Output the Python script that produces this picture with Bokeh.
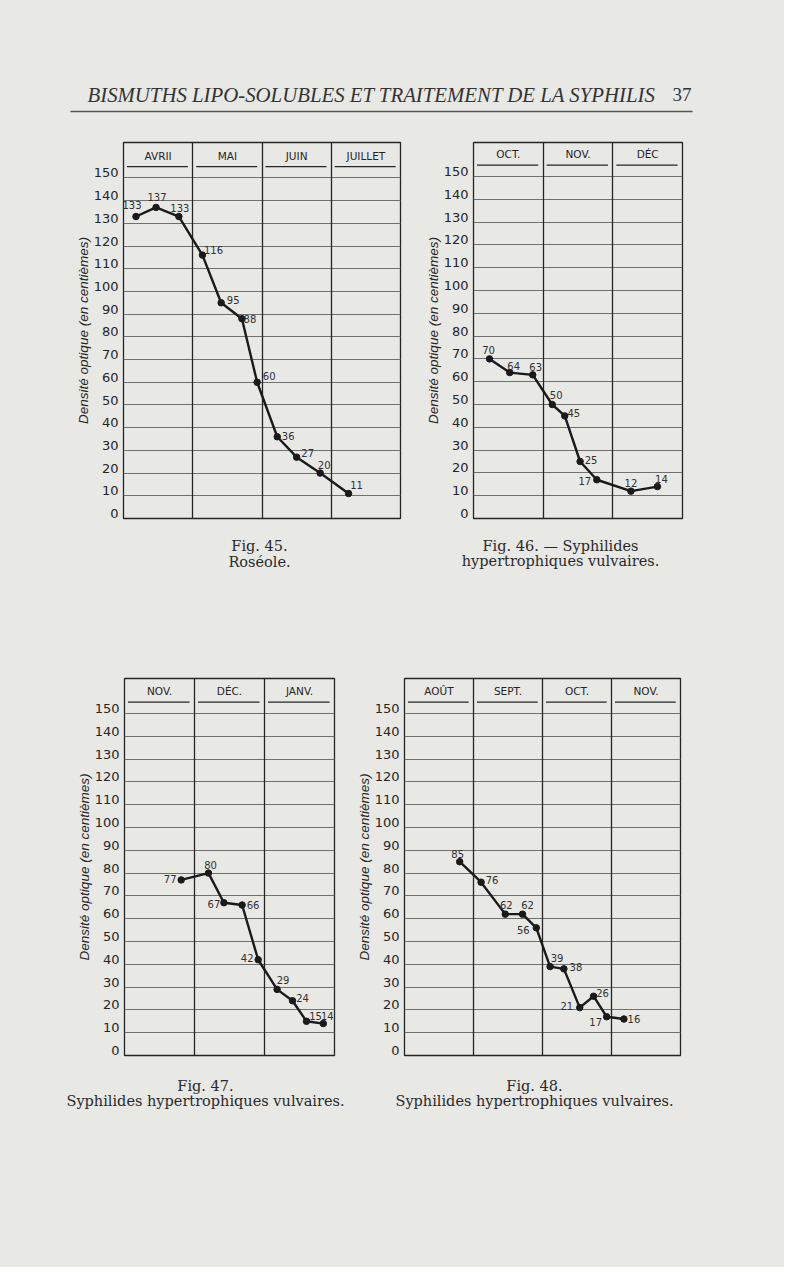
from bokeh.plotting import figure
from bokeh.models import Range1d, LinearAxis, FixedTicker, Grid
from bokeh.layouts import column, row
from bokeh.embed import file_html
from bokeh.resources import INLINE
from bokeh.core.properties import value

BG = "#e8e8e5"
INK = "#252525"
GRIDC = "#707070"

# ---------------- data ----------------
ticks = [0, 10, 20, 30, 40, 50, 60, 70, 80, 90, 100, 110, 120, 130, 140, 150]
tick_labels = ["0", "10", "20", "30", "40", "50", "60", "70", "80", "90",
               "100", "110", "120", "130", "140", "150"]
ylabel = "Densité optique (en centièmes)"

months45 = ["AVRII", "MAI", "JUIN", "JUILLET"]
t45 = [0.18, 0.47, 0.80, 1.14, 1.41, 1.71, 1.93, 2.22, 2.50, 2.84, 3.25]
v45 = [133, 137, 133, 116, 95, 88, 60, 36, 27, 20, 11]
cap45 = ["Fig. 45.", "Roséole."]

months46 = ["OCT.", "NOV.", "DÉC"]
t46 = [0.23, 0.52, 0.85, 1.13, 1.31, 1.53, 1.77, 2.26, 2.64]
v46 = [70, 64, 63, 50, 45, 25, 17, 12, 14]
cap46 = ["Fig. 46. — Syphilides", "hypertrophiques vulvaires."]

months47 = ["NOV.", "DÉC.", "JANV."]
t47 = [0.81, 1.20, 1.42, 1.68, 1.91, 2.18, 2.40, 2.60, 2.84]
v47 = [77, 80, 67, 66, 42, 29, 24, 15, 14]
cap47 = ["Fig. 47.", "Syphilides hypertrophiques vulvaires."]

months48 = ["AOÛT", "SEPT.", "OCT.", "NOV."]
t48 = [0.80, 1.11, 1.46, 1.71, 1.91, 2.11, 2.31, 2.54, 2.74, 2.93, 3.18]
v48 = [85, 76, 62, 62, 56, 39, 38, 21, 26, 17, 16]
cap48 = ["Fig. 48.", "Syphilides hypertrophiques vulvaires."]

header_text = "BISMUTHS LIPO-SOLUBLES ET TRAITEMENT DE LA SYPHILIS"
page_no = "37"

# ---------------- styling (label offsets in px) ----------------
dx45 = [-4, 1, 1, 11, 12, 8, 12, 11, 11, 4, 8]
dy45 = [-12, -10, -9, -5, -3, 0, -6, -1, -4, -8, -9]
dx46 = [-1, 4, 3, 4, 9, 11, -12, 0, 4]
dy46 = [-9, -7, -8, -9, -3, -1, 1, -8, -8]
dx47 = [-11, 2, -10, 11, -11, 6, 10, 9, 4]
dy47 = [-1, -8, 1, 0, -2, -9, -3, -5, -8]
dx48 = [-2, 11, 1, 5, -13, 7, 12, -13, 9, -11, 10]
dy48 = [-8, -2, -9, -9, 2, -9, -2, -2, -3, 5, 0]

STY = {"background-color": BG}


def chart(months, t, v, dx, dy, bl, fw, br, bt, fh, bb, top):
    n = len(months)
    p = figure(width=bl + fw + br, height=bt + fh + bb,
               x_range=Range1d(0, n), y_range=Range1d(0, top),
               x_axis_type=None, y_axis_type=None, title=None,
               output_backend="svg", toolbar_location=None,
               min_border_left=bl, min_border_right=br,
               min_border_top=bt, min_border_bottom=bb)
    p.background_fill_color = BG
    p.border_fill_color = BG
    p.outline_line_color = INK
    p.outline_line_width = 1.3

    p.add_layout(Grid(dimension=1, ticker=FixedTicker(ticks=ticks[1:]),
                      grid_line_color=GRIDC, grid_line_width=1))
    p.add_layout(Grid(dimension=0, ticker=FixedTicker(ticks=list(range(1, n))),
                      grid_line_color=INK, grid_line_width=1.3))

    d = 5.0 * top / fh
    p.extra_y_ranges = {"lab": Range1d(-d, top - d)}
    ax = LinearAxis(y_range_name="lab", ticker=FixedTicker(ticks=ticks),
                    major_label_overrides={t_: l for t_, l in zip(ticks, tick_labels)},
                    axis_line_color=None, major_tick_line_color=None,
                    minor_tick_line_color=None,
                    major_tick_out=0, major_tick_in=0,
                    minor_tick_out=0, minor_tick_in=0,
                    major_label_text_font="DejaVu Sans",
                    major_label_text_font_size="13px",
                    major_label_text_color=INK,
                    major_label_standoff=5,
                    axis_label=ylabel, axis_label_standoff=0,
                    axis_label_text_font="Liberation Sans",
                    axis_label_text_font_style="italic",
                    axis_label_text_font_size="13.5px",
                    axis_label_text_color=INK)
    p.add_layout(ax, "left")

    # month header
    p.text(x=[i + 0.5 for i in range(n)], y=[159.8] * n, text=months,
           text_align="center", text_baseline="middle",
           text_font=value("DejaVu Sans"), text_font_size="10.5px", text_color=INK)
    p.segment(x0=[i + 0.05 for i in range(n)], x1=[i + 0.93 for i in range(n)],
              y0=[155] * n, y1=[155] * n, line_color=INK, line_width=1.2)

    # data
    p.line(t, v, line_color="#1a1a1a", line_width=2.4)
    p.scatter(t, v, size=6.5, fill_color="#1a1a1a", line_color="#1a1a1a")
    p.text(x=t, y=v, text=[str(x) for x in v], x_offset=dx, y_offset=dy,
           text_align="center", text_baseline="middle",
           text_font=value("DejaVu Sans"), text_font_size="10px", text_color="#303030")
    return p


def strip(h):
    s = figure(width=784, height=h, x_range=Range1d(0, 784), y_range=Range1d(h, 0),
               x_axis_type=None, y_axis_type=None, title=None,
               output_backend="svg", toolbar_location=None,
               min_border=0, min_border_left=0, min_border_right=0,
               min_border_top=0, min_border_bottom=0)
    s.background_fill_color = BG
    s.border_fill_color = BG
    s.outline_line_color = None
    return s


def caption(s, lines, cx, ys):
    s.text(x=[cx] * len(lines), y=ys, text=lines, text_align="center",
           text_baseline="alphabetic", text_font=value("DejaVu Serif"),
           text_font_size="14.5px", text_color="#2a2a2a")


# header (page y 0..125)
hdr = strip(125)
hdr.text(x=[87], y=[94], text=[header_text], text_baseline="alphabetic",
         text_font=value("Liberation Serif"), text_font_style="italic",
         text_font_size="20.8px", text_color="#333333")
hdr.text(x=[672], y=[94], text=[page_no], text_baseline="alphabetic",
         text_font=value("Liberation Serif"), text_font_size="19px", text_color="#333333")
hdr.segment(x0=[70], y0=[111], x1=[692], y1=[111], line_color="#555555", line_width=1.4)

# row 1 (page y 125..530)
f45 = chart(months45, t45, v45, dx45, dy45, 123, 277, 20, 17, 380, 8, 165.6)
f46 = chart(months46, t46, v46, dx46, dy46, 53, 209, 102, 15, 378, 12, 164.9)

# captions row 1 (page y 530..600)
c1 = strip(70)
caption(c1, cap45, 259, [15, 31])
caption(c1, cap46, 560, [15, 30])

# row 2 (page y 600..1062)
f47 = chart(months47, t47, v47, dx47, dy47, 124, 210, 16, 77, 378, 7, 165.35)
f48 = chart(months48, t48, v48, dx48, dy48, 54, 276, 104, 78, 377, 7, 165.35)

# captions row 2 (page y 1062..1267)
c2 = strip(205)
caption(c2, cap47, 205, [23, 38])
caption(c2, cap48, 534, [23, 38])

page = column(hdr, row(f45, f46, styles=STY), c1, row(f47, f48, styles=STY), c2,
              styles=STY)
open("out.html", "w").write(file_html(page, INLINE))
